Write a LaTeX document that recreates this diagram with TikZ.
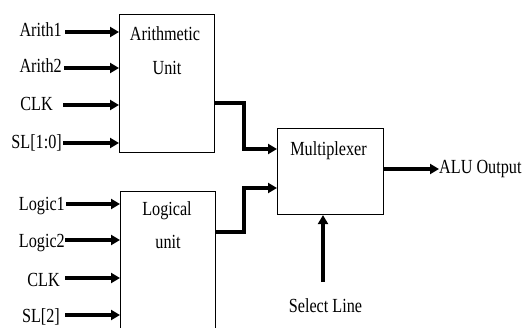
\documentclass[tikz,border=0pt]{standalone}
\usepackage{fontspec}
\setmainfont{Liberation Serif}[FakeStretch=0.81]
\usetikzlibrary{arrows.meta}
\begin{document}
\begin{tikzpicture}[x=1pt,y=-1pt,
  txt/.style={font=\fontsize{20}{22}\selectfont, inner sep=0pt},
  blk/.style={draw, line width=1.1pt, anchor=north west, inner sep=0pt},
  arr/.style={line width=3.2pt, -{Triangle[length=9pt,width=10pt]}}]
\clip (0,0) rectangle (525,327);
\useasboundingbox (0,0) rectangle (525,327);
% blocks
\node[blk, minimum width=95pt, minimum height=138pt] (au) at (119,14) {};
\node[blk, minimum width=95pt, minimum height=150pt] (lu) at (120,191) {};
\node[blk, minimum width=106pt, minimum height=86pt] (mux) at (277,128) {};
% block texts
\node[txt, anchor=base] (aut1) at (165,40) {Arithmetic};
\node[txt, anchor=base] (aut2) at (167,74) {Unit};
\node[txt, anchor=base] (lut1) at (167,215) {Logical};
\node[txt, anchor=base] (lut2) at (168,248) {unit};
\node[txt, anchor=base] (muxt) at (328.5,155) {Multiplexer};
% arithmetic inputs
\node[txt, anchor=base east] (a1) at (62,36) {Arith1};
\node[txt, anchor=base east] (a2) at (62,72) {Arith2};
\node[txt, anchor=base east] (ck1) at (53,110) {CLK};
\node[txt, anchor=base east] (sl1) at (62,148) {SL[1:0]};
\draw[arr] ([xshift=3pt]a1.east |- 0,32) -- (au.west |- 0,32);
\draw[arr] ([xshift=2pt]a2.east |- 0,68) -- (au.west |- 0,68);
\draw[arr] ([xshift=10pt]ck1.east |- 0,105) -- (au.west |- 0,105);
\draw[arr] ([xshift=1pt]sl1.east |- 0,143) -- (au.west |- 0,143);
% logical inputs
\node[txt, anchor=base east] (l1) at (65,210) {Logic1};
\node[txt, anchor=base east] (l2) at (65,247) {Logic2};
\node[txt, anchor=base east] (ck2) at (60,286) {CLK};
\node[txt, anchor=base east] (sl2) at (60,322) {SL[2]};
\draw[arr] ([xshift=1pt]l1.east |- 0,204) -- (lu.west |- 0,204);
\draw[arr] (l2.east |- 0,240) -- (lu.west |- 0,240);
\draw[arr] ([xshift=5pt]ck2.east |- 0,278) -- (lu.west |- 0,278);
\draw[arr] ([xshift=5pt]sl2.east |- 0,315) -- (lu.west |- 0,315);
% unit outputs to multiplexer
\draw[arr] (au.east |- 0,103) -- (244,103) -- (244,149) -- (mux.west |- 0,149);
\draw[arr] (lu.east |- 0,232) -- (244,232) -- (244,188) -- (mux.west |- 0,188);
% output
\node[txt, anchor=base west] (out) at (439,173) {ALU Output};
\draw[arr] (mux.east |- 0,169) -- (out.west |- 0,169);
% select line
\node[txt, anchor=base] (sel) at (325.5,312) {Select Line};
\coordinate (selstart) at (323,282);
\draw[arr] (selstart) -- (selstart |- mux.south);
\end{tikzpicture}
\end{document}
